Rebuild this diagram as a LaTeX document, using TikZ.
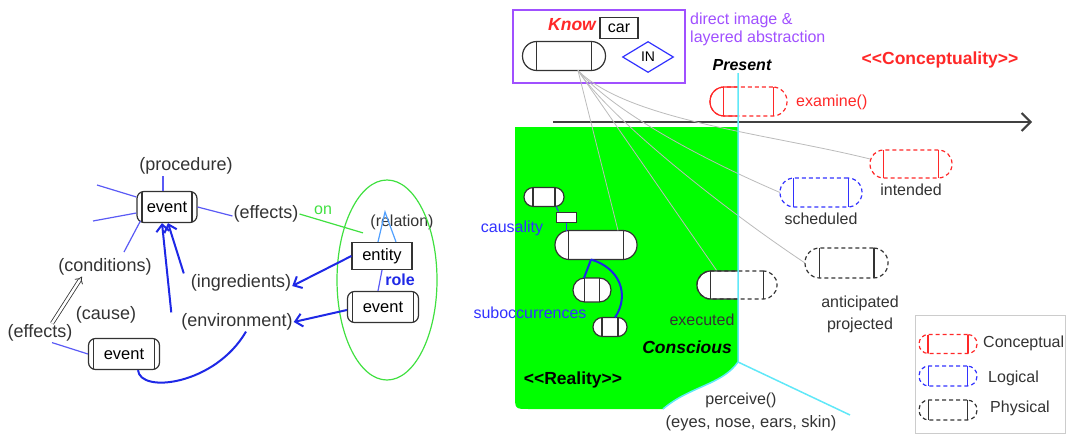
\documentclass[tikz,border=0pt]{standalone}
\usepackage{fontspec}
\setmainfont{Liberation Sans}
\usetikzlibrary{shapes.geometric, arrows.meta, positioning}
\definecolor{flowblue}{HTML}{1E28E6}
\definecolor{rayblue}{HTML}{5A5AF5}
\definecolor{relblue}{HTML}{50A0FF}
\definecolor{ongreen}{HTML}{40E040}
\definecolor{realgreen}{HTML}{00FF00}
\definecolor{knowpurple}{HTML}{A050FF}
\definecolor{concred}{HTML}{FF2828}
\definecolor{logblue}{HTML}{3232FF}
\definecolor{nowcyan}{HTML}{60E8F8}
\definecolor{fangray}{HTML}{BBBBBB}

\begin{document}
\begin{tikzpicture}[x=1pt, y=-1pt,
    lbl/.style={font=\fontsize{18}{20}\selectfont, text=black!80, inner sep=1pt},
    tag/.style={font=\fontsize{16}{18}\selectfont, text=black!80, inner sep=1pt},
    stamp/.style={font=\fontsize{17.5}{20}\selectfont\bfseries\itshape, inner sep=1pt},
    event/.style={draw=black!80, line width=1.2pt, fill=white, rounded corners=7pt,
                minimum width=#1pt, minimum height=31pt, inner sep=0pt,
                font=\fontsize{16.5}{18}\selectfont,
                path picture={\draw[black!80, line width=1.2pt]
                  ([xshift=5pt]path picture bounding box.north west) -- ([xshift=5pt]path picture bounding box.south west)
                  ([xshift=-5pt]path picture bounding box.north east) -- ([xshift=-5pt]path picture bounding box.south east);}},
    occ/.style 2 args={draw=black!80, line width=1.2pt, fill=white, outer sep=0pt,
                minimum width=#1pt, minimum height=#2pt, inner sep=0pt, rounded corners=#2*0.49pt,
                path picture={\draw[black!80, line width=1.2pt]
                  ([xshift=#2*0.47pt]path picture bounding box.north west) -- ([xshift=#2*0.47pt]path picture bounding box.south west)
                  ([xshift=-#2*0.47pt]path picture bounding box.north east) -- ([xshift=-#2*0.47pt]path picture bounding box.south east);}},
    plan/.style n args={3}{draw=#1, line width=1.2pt, dash pattern=on 4pt off 3pt, outer sep=0pt,
                minimum width=#2pt, minimum height=#3pt, inner sep=0pt, rounded corners=#3*0.49pt,
                path picture={\draw[#1, solid, line width=1.2pt]
                  ([xshift=#3*0.47pt]path picture bounding box.north west) -- ([xshift=#3*0.47pt]path picture bounding box.south west)
                  ([xshift=-#3*0.47pt]path picture bounding box.north east) -- ([xshift=-#3*0.47pt]path picture bounding box.south east);}},
    ray/.style={rayblue, line width=1.2pt},
    flow/.style={flowblue, line width=2pt},
    fan/.style={fangray, line width=0.8pt},
    nowline/.style={nowcyan, line width=1.5pt}
]
\useasboundingbox (0,0) rectangle (1067,436);

% reality region
\coordinate (ptop) at (738,73);
\coordinate (pbot) at (738,362);
\coordinate (pleft) at (663,409);
\coordinate (pright) at (850,415);
\coordinate (pcut) at (738,0);
\fill[realgreen] (515,127) -- (738,127) -- (pbot) .. controls (722,385) and (690,386) .. (pleft)
    -- (529,409) .. controls (515,409) .. (515,395) -- cycle;

% time axis
\coordinate (tl0) at (553,122);
\coordinate (tl1) at (1032,122);
\draw[black!75, line width=2pt, -{Straight Barb[length=9pt, width=18pt]}] (tl0) -- (tl1);

% left part: event and its roles
\node[event=60] (ev1) at (167,207) {event};
\node[lbl] (proc) at (186,166) {(procedure)};
\node[lbl] (eff1) at (266,214) {(effects)};
\node[lbl] (ingr) at (241,283) {(ingredients)};
\node[lbl] (env) at (237,322) {(environment)};
\node[lbl] (cond) at (105,267) {(conditions)};
\node[lbl] (cause) at (106,315) {(cause)};
\node[lbl] (eff2) at (40,333) {(effects)};
\node[event=71] (ev3) at (124,354) {event};
\node[draw=black!80, line width=1.2pt, fill=white, minimum width=60pt, minimum height=27pt,
      inner sep=0pt, font=\fontsize{16.5}{18}\selectfont] (ent) at (382,256) {entity};
\node[event=71] (ev2) at (383,307) {event};
\node[tag] (rel) at (402,222) {(relation)};
\node[font=\fontsize{16}{18}\selectfont\bfseries, text=flowblue, inner sep=1pt] (role) at (400,280) {role};
\node[font=\fontsize{16}{18}\selectfont, text=ongreen, inner sep=1pt] (on) at (323,210) {on};

\draw[ongreen, line width=1.2pt] (387,280) ellipse (50 and 100);
\coordinate (r1) at (97,185);
\coordinate (r2) at (93,221);
\coordinate (r3) at (124,252);
\draw[ray] ([yshift=10pt]ev1.west) -- (r1);
\draw[ray] ([yshift=-6pt]ev1.west) -- (r2);
\draw[ray] ([xshift=4pt,yshift=-14pt]ev1.west) -- (r3);
\draw[ray] ([xshift=-4pt]ev1.north) -- ([xshift=-23pt]proc.south);
\draw[ray] (ev1.east) -- ([yshift=-2pt]eff1.west);
\draw[ray] ([xshift=12pt]eff2.south) -- (ev3.west);
\draw[ongreen, line width=1.2pt] (eff1.east) -- ([xshift=-19pt,yshift=9pt]ent.north);
\draw[relblue, line width=1.2pt] ([xshift=-4pt]ent.north) -- ([xshift=-17pt,yshift=10pt]rel.center) -- ([xshift=14pt]ent.north);
\draw[ray] (ent.south) -- ([xshift=-5pt]ev2.north);
\draw[flow, -{Straight Barb[length=7pt, width=13pt]}] (ent.west) -- ([yshift=-3pt]ingr.east);
\draw[flow, -{Straight Barb[length=7pt, width=13pt]}] ([yshift=-3pt]ev2.west) -- (env.east);
\draw[flow, -{Straight Barb[length=7pt, width=13pt]}] ([xshift=-6pt]ingr.north west) -- ([xshift=1pt]ev1.south);
\draw[flow, -{Straight Barb[length=7pt, width=13pt]}] ([xshift=-9pt]env.north west) -- ([xshift=-5pt]ev1.south);
\draw[black!80, line width=0.8pt, double, double distance=2.5pt, -{Implies}] ([xshift=12pt]eff2.north) -- ([xshift=-23pt]cond.south);
\draw[flow] ([xshift=14pt]ev3.south) .. controls (140,394) and (215,385) .. ([xshift=9pt]env.south);

% knowledge box
\node[draw=knowpurple, line width=1.5pt, minimum width=172pt, minimum height=73pt] (kbox) at (599,46.5) {};
\node[stamp, text=concred] (know) at (572,25) {Know};
\node[draw=black!80, line width=1.2pt, minimum width=38pt, minimum height=21pt, inner sep=0pt,
      font=\fontsize{16}{18}\selectfont] (car) at (619,28) {car};
\node[occ={83}{29}] (kocc) at (564,56) {};
\node[diamond, draw=logblue, line width=1.2pt, aspect=1.65, minimum width=51pt, minimum height=31pt,
      inner sep=0pt, font=\fontsize{14}{16}\selectfont] (in) at (648,57) {IN};
\node[tag, text=knowpurple, align=left, anchor=west] (direct) at (689,29) {direct image \&\\layered abstraction};

% occurrences in reality
\node[occ={40}{19}] (ga) at (544,197) {};
\node[draw=black!80, line width=1pt, fill=white, minimum width=20pt, minimum height=10pt, inner sep=0pt] (gr) at (566,217) {};
\node[occ={82}{29}] (big) at (596,245) {};
\node[occ={38}{24}] (gc) at (592,290) {};
\node[occ={34}{19}] (gd) at (610,327) {};
\draw[logblue, line width=1pt] ([xshift=-8pt]ga.south east) -- ([xshift=3pt]gr.north west);
\draw[logblue, line width=1pt] (gr.south) -- ([xshift=-30pt]big.north);
\draw[flow] ([xshift=-5pt]big.south) -- ([xshift=-8pt]gc.north);
\draw[flow] ([xshift=-5pt]big.south) .. controls (620,268) and (630,295) .. ([xshift=5pt]gd.north);
\node[tag, text=logblue] (caus) at (512,228) {causality};
\node[tag, text=logblue] (subo) at (530,313) {suboccurrences};

% plans in conceptuality
\node[plan={concred}{77}{29}, fill=white] (exam) at (748.5,101.5) {};
\node[plan={black!80}{80}{28}, fill=white] (exe) at (737,285) {};
\node[plan={concred}{82}{28}] (intd) at (911,164) {};
\node[plan={logblue}{82}{29}] (sched) at (821,192.5) {};
\node[plan={black!80}{83}{30}] (antic) at (846.5,263) {};
\node[tag, below=5pt of intd] (intdl) {intended};
\node[tag, below=5pt of sched] (schedl) {scheduled};
\node[tag, align=center, font=\fontsize{16}{22}\selectfont] (anticl) at (860,314) {anticipated\\projected};
\node[tag, text=concred, anchor=west] (examl) at (795,102) {examine()};
\node[tag] (exel) at (702,320) {executed};

% fan of realisations
\coordinate (fan) at ([xshift=14pt]kocc.south);
\draw[fan] (fan) -- ([xshift=22pt]big.north);
\draw[fan] (fan) -- ([xshift=-20pt]exe.north);
\draw[fan] (fan) .. controls +(30,45) and +(-90,-60) .. (antic.west);
\draw[fan] (fan) .. controls +(40,45) and +(-70,-30) .. (sched.west);
\draw[fan] (fan) .. controls +(50,50) and +(-100,-25) .. ([yshift=5pt]intd.west);

% solid, already instantiated halves
\coordinate (execut) at (pcut |- exe.south);
\coordinate (examcut) at (pcut |- exam.south);
\begin{scope}
  \clip ([xshift=-2pt,yshift=2pt]exe.north west) rectangle ([yshift=-2pt]execut);
  \draw[black!80, line width=1.2pt, rounded corners=13.72pt] (exe.north west) rectangle (exe.south east);
\end{scope}
\begin{scope}
  \clip ([xshift=-2pt,yshift=2pt]exam.north west) rectangle ([yshift=-2pt]examcut);
  \draw[concred, line width=1.2pt, rounded corners=14.21pt] (exam.north west) rectangle (exam.south east);
\end{scope}

% present
\draw[nowline] (ptop) -- (pbot) .. controls (722,385) and (690,386) .. (pleft);
\draw[nowline] (pbot) -- (pright);
\node[stamp, font=\fontsize{16}{18}\selectfont\bfseries\itshape] (pres) at (742,65) {Present};
\node[stamp] (consc) at (687,347) {Conscious};
\node[font=\fontsize{17.5}{20}\selectfont\bfseries, inner sep=1pt] (realt) at (573,380) {<\kern0pt<Reality>\kern0pt>};
\node[font=\fontsize{17.5}{20}\selectfont\bfseries, text=concred, inner sep=1pt] (conct) at (940,60) {<\kern0pt<Conceptuality>\kern0pt>};
\node[tag] (perc) at (741,400) {perceive()};
\node[tag, font=\fontsize{16.5}{18}\selectfont] (senses) at (751,423) {(eyes, nose, ears, skin)};

% legend
\node[draw=black!20, line width=1pt, minimum width=150pt, minimum height=118pt] (legend) at (990,374) {};
\node[plan={concred}{58}{19}] (lc) at (948,344) {};
\node[plan={logblue}{58}{20}] (ll) at (948,376) {};
\node[plan={black!80}{58}{20}] (lp) at (948,410) {};
\node[tag, anchor=west] (lcl) at (982,343) {Conceptual};
\node[tag, anchor=west] (lll) at (987,378) {Logical};
\node[tag, anchor=west] (lpl) at (989,408) {Physical};
\end{tikzpicture}
\end{document}
